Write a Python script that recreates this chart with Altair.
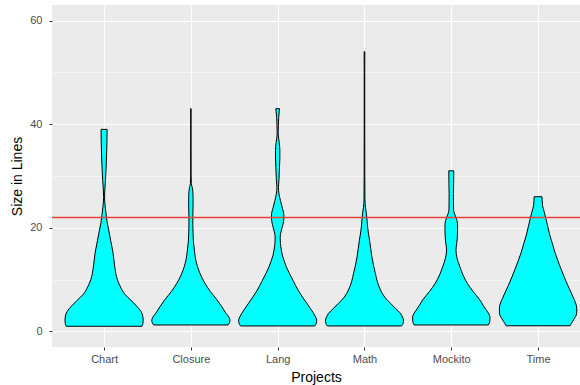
import json

import altair as alt
import pandas as pd

# Projects on the x axis, in display order
projects = ["Chart", "Closure", "Lang", "Math", "Mockito", "Time"]

# Violin profiles: method size (lines) and scaled density (1 = widest violin)
chart_size = [1, 1.6, 2.2, 3, 3.8, 5, 6, 7.2, 8.6, 10, 11.2, 13, 15.1, 17.5,
              19.5, 21, 22.1, 24, 25.9, 27.5, 29.1, 31.5, 34.3, 36.5, 39]
chart_dens = [0.97, 0.995, 1.0, 0.99, 0.95, 0.82, 0.69, 0.53, 0.42, 0.34, 0.30,
              0.265, 0.23, 0.17, 0.12, 0.08, 0.06, 0.03, 0.012, 0.02, 0.035,
              0.052, 0.065, 0.073, 0.077]

closure_size = [1.25, 1.7, 2.2, 2.8, 3.5, 4.8, 6.1, 7.7, 9.3, 10.9, 12.5, 14,
                15.7, 17.3, 18.9, 20.5, 22.1, 24, 25.9, 27, 27.8, 28.5, 30, 35,
                40, 43]
closure_dens = [0.95, 0.99, 1.0, 0.97, 0.9, 0.79, 0.67, 0.5, 0.36, 0.25, 0.17,
                0.12, 0.09, 0.065, 0.056, 0.05, 0.05, 0.055, 0.056, 0.05, 0.035,
                0.012, 0.006, 0.005, 0.005, 0.006]

lang_size = [1.06, 1.6, 2.2, 2.8, 3.5, 4.4, 5.4, 6.7, 8, 9.6, 11.2, 12.5, 13.75,
             14.7, 15.7, 17, 18.2, 19.2, 20.2, 21.2, 22.1, 22.8, 23.8, 25.3,
             26.5, 27.8, 29.5, 31.7, 33.3, 34.9, 36.5, 38.1, 39.7, 41.3, 43]
lang_dens = [0.95, 0.99, 1.0, 0.97, 0.92, 0.84, 0.75, 0.63, 0.52, 0.41, 0.30,
             0.22, 0.16, 0.12, 0.094, 0.07, 0.064, 0.085, 0.12, 0.15, 0.16,
             0.155, 0.12, 0.07, 0.035, 0.02, 0.035, 0.047, 0.055, 0.056, 0.04,
             0.013, 0.018, 0.026, 0.047]

math_size = [1.06, 1.6, 2.2, 2.8, 3.5, 4.4, 5.4, 6.6, 8, 9.6, 11.2, 12.8, 14.4,
             16, 17.6, 19, 20.2, 21.5, 22.7, 24, 25.5, 30, 40, 50, 54]
math_dens = [0.95, 0.99, 1.0, 0.97, 0.92, 0.8, 0.67, 0.52, 0.41, 0.33, 0.28,
             0.23, 0.19, 0.16, 0.13, 0.1, 0.08, 0.065, 0.05, 0.025, 0.012,
             0.008, 0.007, 0.007, 0.008]

mockito_size = [1.25, 1.9, 2.8, 3.4, 4.1, 5, 6.1, 7.7, 9.3, 10.9, 12.5, 14.1,
                15.7, 17, 18.2, 19.5, 20.8, 22, 23, 23.4, 25, 26.6, 28.5, 31]
mockito_dens = [0.95, 0.985, 0.99, 0.96, 0.9, 0.82, 0.73, 0.56, 0.41, 0.3,
                0.22, 0.15, 0.12, 0.14, 0.155, 0.162, 0.16, 0.12, 0.07, 0.06,
                0.056, 0.056, 0.06, 0.064]

time_size = [1.1, 1.5, 1.9, 2.5, 3.2, 3.8, 4.5, 5.5, 6.4, 7.6, 8.9, 10.5, 12.2,
             13.8, 15.3, 17, 18.6, 20.2, 21.8, 23, 24.3, 25.2, 26]
time_dens = [0.82, 0.85, 0.88, 0.93, 0.98, 0.99, 0.99, 0.96, 0.91, 0.84, 0.76,
             0.67, 0.58, 0.5, 0.43, 0.365, 0.30, 0.25, 0.2, 0.16, 0.115, 0.105,
             0.1]

# Reference threshold line
threshold = [22]

sizes = [chart_size, closure_size, lang_size, math_size, mockito_size, time_size]
densities = [chart_dens, closure_dens, lang_dens, math_dens, mockito_dens, time_dens]

rows = []
for pos, (name, ys, ws) in enumerate(zip(projects, sizes, densities), start=1):
    for y, w in zip(ys, ws):
        rows.append({"project": name, "pos": pos, "size": y, "density": w})
violin_df = pd.DataFrame(rows)

FONT = "Liberation Sans"
RED = "#E8403A"
label_expr = f"{json.dumps([''] + projects)}[datum.value]"

x_scale = alt.Scale(domain=[0.4, 6.483], nice=False, zero=False)
y_scale = alt.Scale(domain=[-3, 63], nice=False, zero=False)

violins = (
    alt.Chart(violin_df)
    .transform_calculate(
        lo="datum.pos - 0.45 * datum.density",
        hi="datum.pos + 0.45 * datum.density",
    )
    .mark_area(
        orient="horizontal",
        interpolate="monotone",
        fill="#00FFFF",
        stroke="black",
        strokeWidth=1,
    )
    .encode(
        x=alt.X(
            "lo:Q",
            scale=x_scale,
            axis=alt.Axis(
                values=list(range(1, len(projects) + 1)),
                labelExpr=label_expr,
                title="Projects",
                labelPadding=3,
                titlePadding=6,
            ),
        ),
        x2="hi:Q",
        y=alt.Y(
            "size:Q",
            scale=y_scale,
            axis=alt.Axis(
                values=[0, 10, 20, 30, 40, 50, 60],
                labelExpr="datum.value % 20 === 0 ? datum.label : ''",
                gridWidth={"condition": {"test": "datum.value % 20 === 0", "value": 1.1},
                           "value": 0.5},
                tickOpacity={"condition": {"test": "datum.value % 20 === 0", "value": 1},
                             "value": 0},
                title="Size in Lines",
                labelPadding=7,
                titlePadding=5,
            ),
        ),
        detail="project:N",
    )
)

hline = (
    alt.Chart(pd.DataFrame({"threshold": threshold}))
    .mark_rule(color=RED, stroke=RED, strokeWidth=1.4, opacity=1)
    .encode(y=alt.Y("threshold:Q", scale=y_scale))
)

chart = (
    alt.layer(violins, hline)
    .properties(
        width=528,
        height=342,
        autosize="none",
        padding={"left": 52, "top": 5, "right": 0, "bottom": 38},
        background="white",
    )
    .configure_view(fill="#EBEBEB", stroke=None)
    .configure_axis(
        domain=False,
        grid=True,
        gridColor="white",
        gridWidth=1.1,
        tickColor="#333333",
        tickSize=3,
        tickWidth=1,
        labelColor="#4D4D4D",
        labelFont=FONT,
        labelFontSize=11,
        titleFont=FONT,
        titleFontSize=14,
        titleFontWeight="normal",
        titleColor="black",
    )
)

chart.save("out.html", embed_options={"renderer": "svg", "actions": False})
